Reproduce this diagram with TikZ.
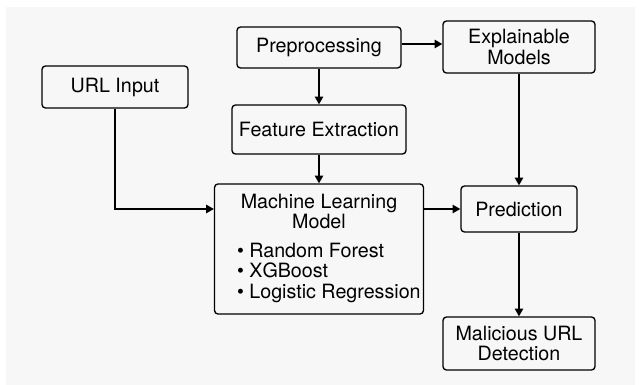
\documentclass[tikz,border=0pt]{standalone}
\usepackage{fontspec}
\setmainfont{TeX Gyre Heros}
\usetikzlibrary{arrows.meta}

\definecolor{bggray}{HTML}{F7F7F7}

\tikzset{
	box/.style={draw, line width=0.95pt, rounded corners=2.5pt, align=center,
		font=\fontsize{14}{14.3}\selectfont, inner sep=2pt},
	flow/.style={line width=0.95pt, -{Triangle[length=5.5pt, width=6pt]}}
}

\begin{document}
\begin{tikzpicture}[x=0.025cm, y=-0.025cm]
		\useasboundingbox (0, 0) rectangle (640, 385);
		\fill[white] (0, 0) rectangle (640, 385);
		\fill[bggray] (6, 7) rectangle (635, 385);

		\node[box, minimum width=4.1cm, minimum height=1.025cm] (prep) at (319, 47.5) {Preprocessing};
		\node[box, minimum width=3.8cm, minimum height=1.3cm] (expl) at (519, 47) {Explainable\\Models};
		\node[box, minimum width=3.65cm, minimum height=1.05cm] (url) at (115, 87) {URL Input};
		\node[box, minimum width=4.35cm, minimum height=1.225cm] (feat) at (319, 129.5) {Feature Extraction};
		\node[box, minimum width=5.05cm, minimum height=3.25cm] (ml) at (319, 249)
			{Machine Learning\\Model\\[9pt]
			\hspace*{14pt}\begin{tabular}{@{}l@{}}
				• Random Forest\\
				• XGBoost\\
				• Logistic Regression
			\end{tabular}};
		\node[box, minimum width=2.9cm, minimum height=1.15cm] (pred) at (519, 209) {Prediction};
		\node[box, minimum width=3.8cm, minimum height=1.325cm] (mal) at (519, 343.5) {Malicious URL\\Detection};

		\draw[flow] ([yshift=2.5pt]prep.east) -- ([yshift=2.5pt]prep.east -| expl.west);
		\draw[flow] (prep) -- (feat);
		\draw[flow] (feat) -- (ml);
		\draw[flow] (url.south) |- (ml.west |- pred.west);
		\draw[flow] (ml.east |- pred.west) -- (pred.west);
		\draw[flow] (expl) -- (pred);
		\draw[flow] (pred) -- (mal);
	\end{tikzpicture}
\end{document}
